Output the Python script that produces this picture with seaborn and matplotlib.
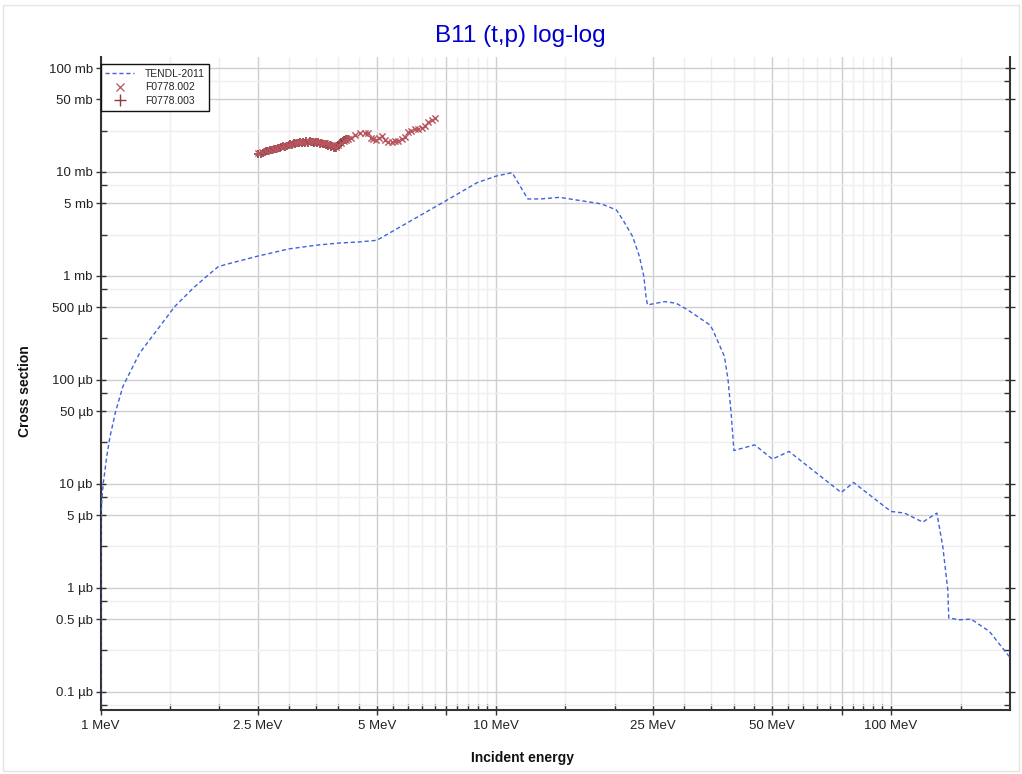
import matplotlib
matplotlib.use("Agg")
import numpy as np
import pandas as pd
import matplotlib.pyplot as plt
import seaborn as sns
from matplotlib.ticker import FixedLocator, FixedFormatter, NullFormatter
from matplotlib.lines import Line2D
from matplotlib.patches import Rectangle

# ---- evaluated cross section (TENDL-2011), energy in MeV, sigma in mb ----
tendl_energy = [1.000, 1.002, 1.008, 1.016, 1.037, 1.057, 1.092, 1.139, 1.256, 1.412,
                1.541, 1.715, 1.873, 1.987, 2.126, 2.5, 3.0, 3.5, 4.0, 4.5,
                5.0, 7.54, 8.97, 10.0, 11.0, 12.05, 13.0, 14.5, 18.5, 20.2,
                21.1, 22.2, 23.1, 23.7, 24.0, 24.2, 26.74, 28.6, 30.6, 34.8,
                35.4, 37.9, 38.7, 39.4, 40.05, 45.2, 50.1, 55.2, 74.8, 80.4,
                93.5, 100.0, 108.2, 120.3, 130.6, 135.2, 139.2, 140.0, 149.0, 159.5,
                177.4, 197.4, 200.0]
tendl_sigma = [1.0e-5, 0.0045, 0.0072, 0.0100, 0.0183, 0.0285, 0.0496, 0.0862, 0.181, 0.326,
               0.507, 0.762, 1.02, 1.23, 1.32, 1.55, 1.82, 1.97, 2.07, 2.12,
               2.20, 5.38, 7.89, 9.1, 9.85, 5.5, 5.5, 5.7, 4.93, 4.31,
               3.33, 2.39, 1.53, 0.985, 0.63, 0.526, 0.566, 0.546, 0.471, 0.338,
               0.303, 0.1676, 0.100, 0.0479, 0.0209, 0.0237, 0.01728, 0.0205, 0.00825, 0.0103,
               0.0066, 0.00542, 0.00523, 0.00428, 0.00523, 0.00249, 0.000957, 0.000512, 0.000492, 0.000499,
               0.00038, 0.000227, 0.000215]

# ---- measured data, EXFOR F0778.002 ----
f002_energy = [2.50, 2.56, 2.62, 2.68, 2.74, 2.80, 2.86, 2.92, 2.98, 3.04,
               3.10, 3.16, 3.22, 3.28, 3.34, 3.40, 3.46, 3.52, 3.58, 3.64,
               3.70, 3.76, 3.82, 3.88, 3.94, 4.00, 4.06, 4.12, 4.18, 4.24,
               4.30, 4.40, 4.53, 4.67, 4.74, 4.83, 4.90, 4.97, 5.07, 5.14,
               5.26, 5.34, 5.45, 5.55, 5.66, 5.78, 5.89, 6.00, 6.12, 6.24,
               6.36, 6.49, 6.61, 6.74, 6.88, 7.01]
f002_sigma = [15.1, 15.5, 15.9, 16.3, 16.7, 17.0, 17.3, 17.7, 18.1, 18.6,
              19.0, 19.3, 19.5, 19.6, 19.7, 19.8, 19.7, 19.6, 19.4, 19.1,
              18.8, 18.5, 18.1, 17.8, 17.5, 18.0, 19.0, 19.8, 20.3, 20.8,
              21.3, 22.7, 23.6, 23.6, 23.6, 21.4, 20.6, 20.3, 21.1, 22.2,
              20.3, 19.6, 19.3, 19.9, 19.9, 20.6, 21.8, 24.1, 24.8, 25.9,
              25.9, 26.7, 27.9, 30.0, 31.6, 32.8]

# ---- measured data, EXFOR F0778.003 ----
f003_energy = [2.51, 2.54, 2.57, 2.60, 2.63, 2.66, 2.69, 2.72, 2.75, 2.78,
               2.81, 2.84, 2.87, 2.90, 2.93, 2.96, 2.99, 3.02, 3.05, 3.08,
               3.11, 3.14, 3.17, 3.20, 3.23, 3.26, 3.29, 3.32, 3.35, 3.38,
               3.41, 3.44, 3.47, 3.50, 3.53, 3.56, 3.59, 3.62, 3.65, 3.68,
               3.71, 3.74, 3.77, 3.80, 3.83, 3.86, 3.89, 3.92, 3.95, 3.98,
               4.01, 4.04, 4.07, 4.10, 4.13, 4.16, 4.19, 4.22]
f003_sigma = [14.8, 15.0, 15.3, 15.4, 15.8, 15.9, 16.2, 16.3, 16.7, 16.6,
              17.0, 17.1, 17.2, 17.6, 17.5, 17.9, 18.0, 18.4, 18.3, 18.8,
              18.6, 19.1, 18.9, 19.4, 19.0, 19.6, 19.1, 19.7, 19.2, 19.8,
              19.3, 19.6, 19.0, 19.5, 18.9, 19.3, 18.7, 19.0, 18.4, 18.7,
              18.1, 18.4, 17.8, 18.1, 17.4, 17.7, 17.1, 17.3, 17.0, 17.6,
              18.2, 18.9, 19.5, 20.0, 20.3, 20.4, 20.7, 20.9]

# ---- axis ticks ----
x_major = [1, 2.5, 5, 7.5, 10, 25, 50, 75, 100]
x_major_labels = ["1 MeV", "2.5 MeV", "5 MeV", "", "10 MeV", "25 MeV", "50 MeV", "", "100 MeV"]
x_minor = [1.5, 2, 3, 3.5, 4, 4.5, 5.5, 6, 6.5, 7, 8, 8.5, 9, 9.5,
           15, 20, 30, 35, 40, 45, 55, 60, 65, 70, 80, 85, 90, 95, 150]
y_major = [1e-4, 5e-4, 1e-3, 5e-3, 1e-2, 5e-2, 0.1, 0.5, 1, 5, 10, 50, 100]
y_major_labels = ["0.1 µb", "0.5 µb", "1 µb", "5 µb", "10 µb", "50 µb", "100 µb",
                  "500 µb", "1 mb", "5 mb", "10 mb", "50 mb", "100 mb"]
y_minor = [7.5e-5, 2.5e-4, 7.5e-4, 2.5e-3, 7.5e-3, 2.5e-2, 7.5e-2,
           0.25, 0.75, 2.5, 7.5, 25, 75]

sns.set_theme(style="white")
plt.rcParams["font.family"] = ["Liberation Sans", "DejaVu Sans"]

W, H = 1022, 774
fig = plt.figure(figsize=(W / 100, H / 100), dpi=100)
ax = fig.add_axes([100.5 / W, 1 - 710 / H, (1010 - 100.5) / W, (710 - 57) / H])
ax.set_xscale("log")
ax.set_yscale("log")

tendl = pd.DataFrame({"E": tendl_energy, "sigma": tendl_sigma})
d002 = pd.DataFrame({"E": f002_energy, "sigma": f002_sigma})
d003 = pd.DataFrame({"E": f003_energy, "sigma": f003_sigma})

line_color = "#3d63dd"
c002 = "#b8555e"
c003 = "#8c3b3f"

sns.lineplot(data=tendl, x="E", y="sigma", ax=ax, sort=False, estimator=None,
             color=line_color, lw=1.0, zorder=3)
ax.lines[-1].set_dashes([3, 2])

sns.scatterplot(data=d003, x="E", y="sigma", ax=ax, marker="+", s=34,
                color=c003, linewidth=1.2, zorder=4)
sns.scatterplot(data=d002, x="E", y="sigma", ax=ax, marker="x", s=20,
                color=c002, linewidth=1.0, zorder=5)

ax.set_xlim(1, 200)
ax.set_ylim(6.67e-5, 127.6)

ax.xaxis.set_major_locator(FixedLocator(x_major))
ax.xaxis.set_major_formatter(FixedFormatter(x_major_labels))
ax.xaxis.set_minor_locator(FixedLocator(x_minor))
ax.xaxis.set_minor_formatter(NullFormatter())
ax.yaxis.set_major_locator(FixedLocator(y_major))
ax.yaxis.set_major_formatter(FixedFormatter(y_major_labels))
ax.yaxis.set_minor_locator(FixedLocator(y_minor))
ax.yaxis.set_minor_formatter(NullFormatter())

ax.set_axisbelow(True)
ax.grid(which="major", color="#cfcfcf", lw=1.0)
ax.grid(which="minor", color="#efefef", lw=1.0)

for side in ["left", "bottom", "right"]:
    ax.spines[side].set_visible(True)
    ax.spines[side].set_color("#333333")
    ax.spines[side].set_linewidth(1.5)
ax.spines["top"].set_visible(False)

ax.tick_params(which="major", direction="inout", length=7, width=1, color="#333333",
               labelsize=9.5, labelcolor="#222222", left=True, bottom=True, right=True)
ax.tick_params(which="minor", direction="in", length=4, width=1, color="#333333",
               left=True, bottom=True, right=True)
ax.tick_params(axis="y", which="both", right=True, labelright=False)
ax.tick_params(axis="y", which="major", pad=2)
ax.tick_params(axis="x", which="major", pad=4)

ax.set_xlabel("")
ax.set_ylabel("")

handles = [
    Line2D([], [], color=line_color, lw=1.0, dashes=[3, 2]),
    Line2D([], [], color=c002, marker="x", ls="none", markersize=6, mew=0.9),
    Line2D([], [], color=c003, marker="+", ls="none", markersize=8, mew=1.0),
]
leg = ax.legend(handles, ["TENDL-2011", "F0778.002", "F0778.003"],
                loc="upper left", bbox_to_anchor=(0.0, 1 - 7 / 653),
                borderaxespad=0, fontsize=7.5, frameon=True, fancybox=False,
                handlelength=2.8, handletextpad=1.0, labelspacing=0.35,
                borderpad=0.45)
leg.get_frame().set_edgecolor("#111111")
leg.get_frame().set_linewidth(1.0)
leg.get_frame().set_alpha(1)

fig.text(520 / W, 1 - 36 / H, "B11 (t,p) log-log", ha="center", va="center",
         fontsize=17.5, color="#0000cc")
fig.text(522 / W, 1 - 758 / H, "Incident energy", ha="center", va="center",
         fontsize=10, fontweight="bold", color="#111111")
fig.text(25 / W, 1 - 391 / H, "Cross section", ha="center", va="center",
         rotation=90, fontsize=10, fontweight="bold", color="#111111")

fig.patches.append(Rectangle((3 / W, 3 / H), (W - 6) / W, (H - 8) / H,
                             transform=fig.transFigure, fill=False,
                             edgecolor="#e4e4e4", lw=1.0))

fig.savefig("out.png", dpi=100)
